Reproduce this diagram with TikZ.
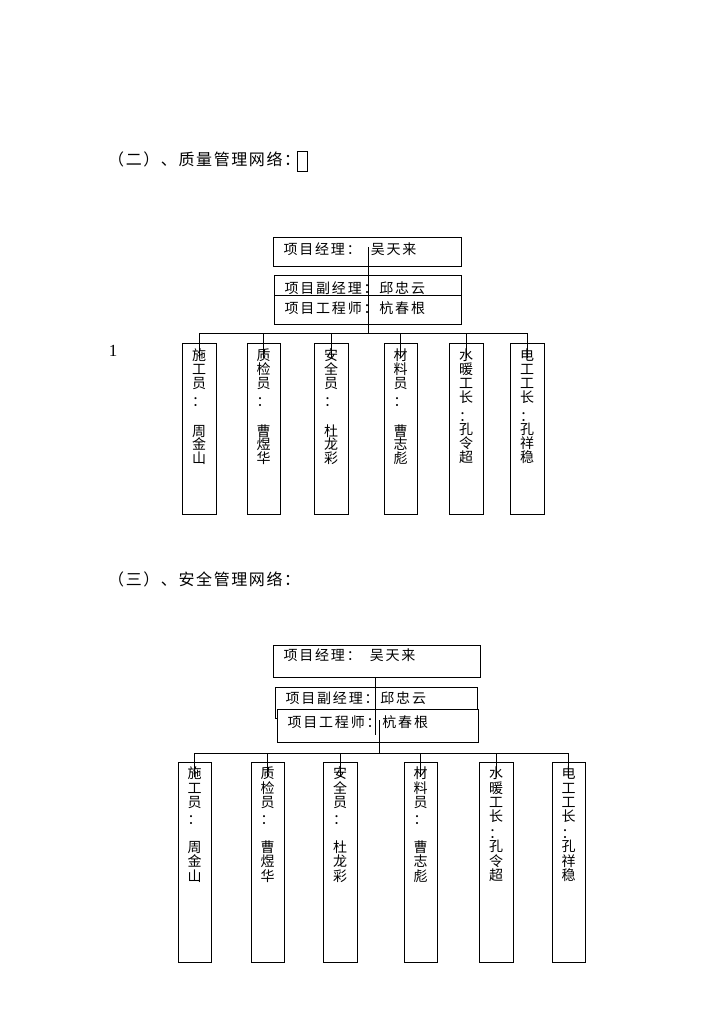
\documentclass[tikz,border=0pt]{standalone}
\usepackage{fontspec}
\setmainfont{Liberation Serif}
\newfontfamily\cjk[LetterSpace=13]{Noto Sans CJK SC}
\newfontfamily\cjktitle[LetterSpace=10]{Noto Sans CJK SC}
\begin{document}
\begin{tikzpicture}[x=1pt,y=-1pt]
  \tikzstyle{titleStyle}=[font=\cjktitle\fontsize{16}{18}\selectfont, inner sep=0pt, anchor=base west]
  \tikzstyle{headStyle}=[draw, line width=1pt, fill=white, font=\cjk\fontsize{14}{16}\selectfont, anchor=north west, inner xsep=10pt, inner ysep=0pt, align=left]
  \tikzstyle{staffStyle}=[draw, line width=1pt, anchor=north, minimum width=34pt, inner sep=0pt]
  \tikzstyle{staffText}=[font={\cjk\fontsize{14}{13.8}\selectfont\lineskiplimit=-20pt}, align=center, anchor=north, inner sep=0pt]
  \tikzstyle{linkStyle}=[line width=1pt]
  \useasboundingbox (0,0) rectangle (724,1024);

  % (two) quality
  \begin{scope}
   \node[titleStyle](title1) at (108,166) {（二）、质量管理网络：};
   \node[draw, line width=0.8pt, anchor=north west, minimum width=10pt, minimum height=20pt, inner sep=0pt](tofu) at (297,151) {};
   \node[font=\fontsize{17}{20}\selectfont, inner sep=0pt](one) at (113,351) {1};

   \node[headStyle, text width=168pt, text height=17pt, text depth=12pt](manager1) at (273,237) {项目经理：\hspace{10pt}吴天来};
   \node[headStyle, text width=167pt, text height=18pt, text depth=12pt](deputy1) at (274,275) {项目副经理：邱忠云};
   \node[headStyle, text width=167pt, text height=18pt, text depth=11pt](engineer1) at (274,295) {项目工程师：杭春根};

   \node[staffStyle, minimum height=171pt](builder1) at (199,343) {};
   \node[staffText](textbuilder1) at (199,349) {施\\工\\员\\[4pt]：\\[16pt]周\\金\\山};
   \node[staffStyle, minimum width=33pt, minimum height=171pt](inspector1) at (263.5,343) {};
   \node[staffText](textinspector1) at (263.5,349) {质\\检\\员\\[4pt]：\\[16pt]曹\\煜\\华};
   \node[staffStyle, minimum height=171pt](safety1) at (331,343) {};
   \node[staffText](textsafety1) at (331,349) {安\\全\\员\\[4pt]：\\[16pt]杜\\龙\\彩};
   \node[staffStyle, minimum width=33pt, minimum height=171pt](material1) at (400.5,343) {};
   \node[staffText](textmaterial1) at (400.5,349) {材\\料\\员\\[4pt]：\\[16pt]曹\\志\\彪};
   \node[staffStyle, minimum height=171pt](plumbing1) at (466,343) {};
   \node[staffText](textplumbing1) at (466,349) {水\\暖\\工\\长\\[5pt]：\\孔\\令\\超};
   \node[staffStyle, minimum height=171pt](electric1) at (527,343) {};
   \node[staffText](textelectric1) at (527,349) {电\\工\\工\\长\\[5pt]：\\孔\\祥\\稳};

   \coordinate (stemtop1) at (368,247);
   \coordinate (bar1) at (368,333);
   \draw[linkStyle] (stemtop1) -- (bar1);
   \draw[linkStyle] (builder1.north |- bar1) -- (electric1.north |- bar1);
   \foreach \n in {builder1,inspector1,safety1,material1,plumbing1,electric1}
     \draw[linkStyle] (\n.north |- bar1) -- ([yshift=-15pt]\n.north);
  \end{scope}

  % (three) safety
  \begin{scope}
   \node[titleStyle](title2) at (108,585) {（三）、安全管理网络：};

   \node[headStyle, text width=187pt, text height=15pt, text depth=17pt](manager2) at (273,645) {项目经理：\hspace{9pt}吴天来};
   \node[headStyle, text width=182pt, text height=16pt, text depth=15pt](deputy2) at (275,687) {项目副经理：邱忠云};
   \node[headStyle, text width=181pt, text height=18pt, text depth=15pt](engineer2) at (277,709) {项目工程师：杭春根};

   \node[staffStyle, minimum width=33pt, minimum height=200pt](builder2) at (194.5,762) {};
   \node[staffText, font={\cjk\fontsize{14}{14.2}\selectfont\lineskiplimit=-20pt}](textbuilder2) at (194.5,767) {施\\工\\员\\[3pt]：\\[14pt]周\\金\\山};
   \node[staffStyle, minimum width=33pt, minimum height=200pt](inspector2) at (267.5,762) {};
   \node[staffText, font={\cjk\fontsize{14}{14.2}\selectfont\lineskiplimit=-20pt}](textinspector2) at (267.5,767) {质\\检\\员\\[3pt]：\\[14pt]曹\\煜\\华};
   \node[staffStyle, minimum height=200pt](safety2) at (340,762) {};
   \node[staffText, font={\cjk\fontsize{14}{14.2}\selectfont\lineskiplimit=-20pt}](textsafety2) at (340,767) {安\\全\\员\\[3pt]：\\[14pt]杜\\龙\\彩};
   \node[staffStyle, minimum width=33pt, minimum height=200pt](material2) at (420.5,762) {};
   \node[staffText, font={\cjk\fontsize{14}{14.2}\selectfont\lineskiplimit=-20pt}](textmaterial2) at (420.5,767) {材\\料\\员\\[3pt]：\\[14pt]曹\\志\\彪};
   \node[staffStyle, minimum height=200pt](plumbing2) at (496,762) {};
   \node[staffText, font={\cjk\fontsize{14}{14.2}\selectfont\lineskiplimit=-20pt}](textplumbing2) at (496,767) {水\\暖\\工\\长\\[3pt]：\\[-1pt]孔\\令\\超};
   \node[staffStyle, minimum width=33pt, minimum height=200pt](electric2) at (568.5,762) {};
   \node[staffText, font={\cjk\fontsize{14}{14.2}\selectfont\lineskiplimit=-20pt}](textelectric2) at (568.5,767) {电\\工\\工\\长\\[3pt]：\\[-1pt]孔\\祥\\稳};

   \coordinate (stemtop2) at (375,677);
   \coordinate (stemmid2) at (375,735);
   \coordinate (stemlow2) at (379,720);
   \coordinate (bar2) at (379,753);
   \draw[linkStyle] (stemtop2) -- (stemmid2);
   \draw[linkStyle] (stemlow2) -- (bar2);
   \draw[linkStyle] (builder2.north |- bar2) -- (electric2.north |- bar2);
   \foreach \n in {builder2,inspector2,safety2,material2,plumbing2,electric2}
     \draw[linkStyle] (\n.north |- bar2) -- ([yshift=-15pt]\n.north);
  \end{scope}

\end{tikzpicture}
\end{document}
